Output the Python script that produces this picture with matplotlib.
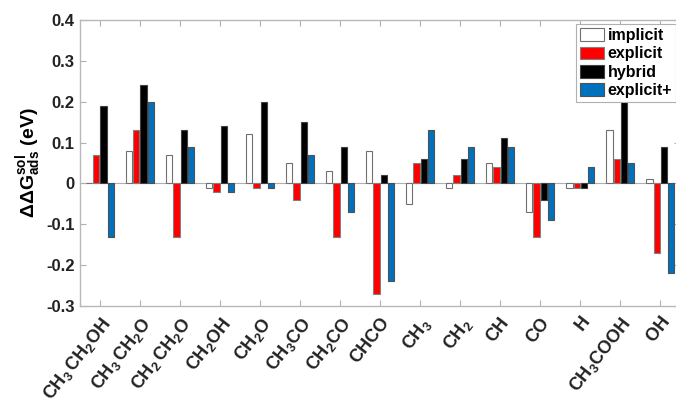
import numpy as np
import matplotlib
matplotlib.use("Agg")
import matplotlib.pyplot as plt

plt.rcParams["font.family"] = ["Liberation Sans", "DejaVu Sans"]
plt.rcParams["font.weight"] = "bold"
plt.rcParams["mathtext.fontset"] = "custom"
plt.rcParams["mathtext.rm"] = "Liberation Sans:bold"
plt.rcParams["mathtext.it"] = "Liberation Sans:bold"
plt.rcParams["mathtext.bf"] = "Liberation Sans:bold"
plt.rcParams["mathtext.default"] = "bf"

# adsorbates and solvation correction per method (eV)
species = [r"$CH_3\,CH_2OH$", r"$CH_3\,CH_2O$", r"$CH_2\,CH_2O$", r"$CH_2OH$",
           r"$CH_2O$", r"$CH_3CO$", r"$CH_2CO$", r"$CHCO$", r"$CH_3$",
           r"$CH_2$", r"$CH$", r"$CO$", r"$H$", r"$CH_3COOH$", r"$OH$"]
implicit = [0.0, 0.08, 0.07, -0.01, 0.12, 0.05, 0.03, 0.08, -0.05, -0.01,
            0.05, -0.07, -0.01, 0.13, 0.01]
explicit = [0.07, 0.13, -0.13, -0.02, -0.01, -0.04, -0.13, -0.27, 0.05, 0.02,
            0.04, -0.13, -0.01, 0.06, -0.17]
hybrid = [0.19, 0.24, 0.13, 0.14, 0.20, 0.15, 0.09, 0.02, 0.06, 0.06,
          0.11, -0.04, -0.01, 0.28, 0.09]
explicit_plus = [-0.13, 0.20, 0.09, -0.02, -0.01, 0.07, -0.07, -0.24, 0.13, 0.09,
                 0.09, -0.09, 0.04, 0.05, -0.22]

series = [("implicit", implicit, "white", "#707070"),
          ("explicit", explicit, "#ff0000", "#808080"),
          ("hybrid", hybrid, "black", "#404040"),
          ("explicit+", explicit_plus, "#0072bd", "#505050")]

x = np.arange(1, len(species) + 1)
offsets = [-0.27, -0.09, 0.09, 0.27]
width = 0.155

fig = plt.figure(figsize=(6.76, 3.98), dpi=100)
ax = fig.add_axes([0.1183, 0.2312, 0.888, 0.7185])

for (name, vals, face, edge), off in zip(series, offsets):
    ax.bar(x + off, vals, width, color=face, edgecolor=edge, linewidth=0.8,
           label=name, zorder=3)

ax.axhline(0, color="#b0b0b0", linewidth=0.8, zorder=2)

ax.set_xlim(0.5, len(species) + 0.5)
ax.set_ylim(-0.3, 0.4)
ax.set_yticks([-0.3, -0.2, -0.1, 0, 0.1, 0.2, 0.3, 0.4])
ax.set_yticklabels(["-0.3", "-0.2", "-0.1", "0", "0.1", "0.2", "0.3", "0.4"],
                   fontsize=12, fontweight="bold")
ax.set_xticks(x)
ax.set_xticklabels(species, rotation=52, ha="right", rotation_mode="anchor",
                   fontsize=13)
ax.tick_params(direction="in", length=4, color="#b0b0b0", top=True, right=True,
               labelcolor="#222222", pad=4)
ax.tick_params(axis="x", pad=6)
for s in ax.spines.values():
    s.set_color("#b8b8b8")
    s.set_linewidth(1.0)

ax.set_ylabel(r"$\Delta\Delta G^{sol}_{ads}$ (eV)", fontsize=14,
              fontweight="bold", labelpad=2)

leg = ax.legend(loc="upper right", bbox_to_anchor=(0.993, 0.985),
                prop={"weight": "bold", "size": 11.5}, frameon=True, fancybox=False,
                framealpha=1, handlelength=1.5, handleheight=0.85,
                handletextpad=0.2, labelspacing=0.2, borderpad=0.25,
                borderaxespad=0)
leg.get_frame().set_edgecolor("#b0b0b0")
leg.get_frame().set_linewidth(0.8)

fig.savefig("out.png", dpi=100)
